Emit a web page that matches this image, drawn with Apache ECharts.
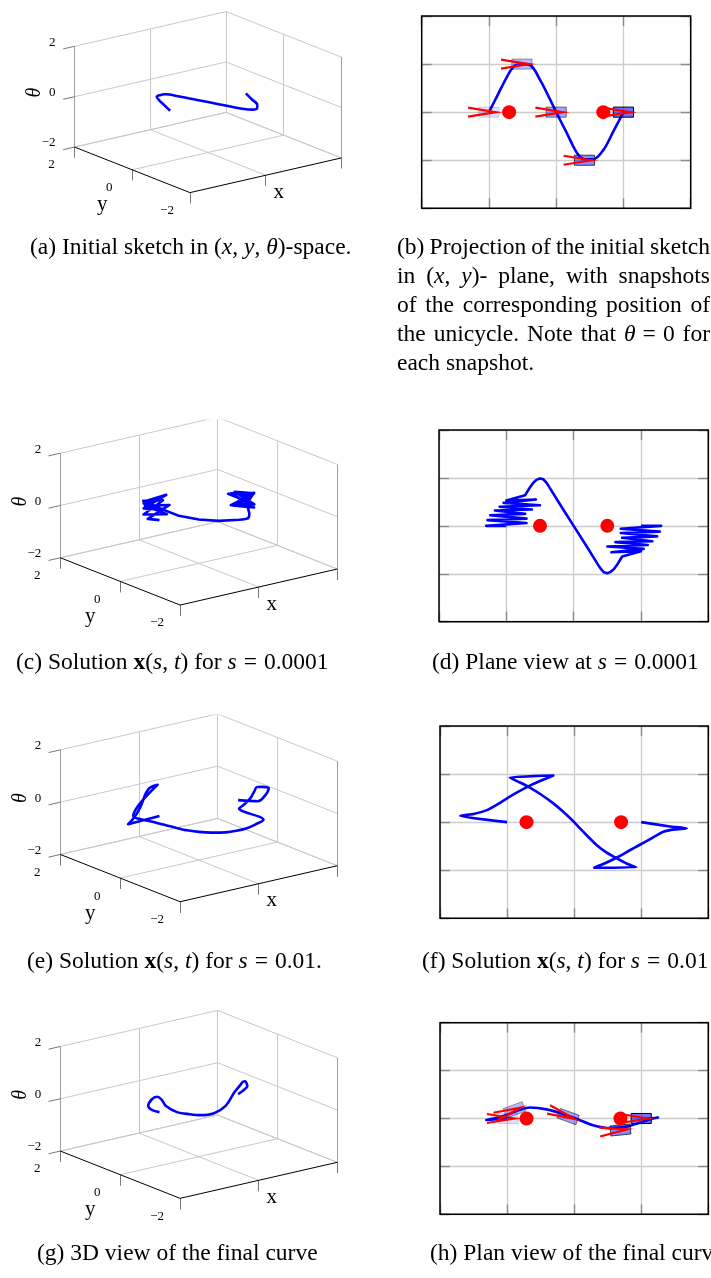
<!DOCTYPE html>
<html>
<head>
<meta charset="utf-8">
<title>Unicycle path deformation</title>
<script src="https://cdn.jsdelivr.net/npm/echarts/dist/echarts.min.js"></script>
<style>
html,body{margin:0;padding:0;background:#fff;}
#chart{width:711px;height:1278px;}
</style>
</head>
<body>
<div id="chart"></div>
<script>
// ---------------- data ----------------
const planeRange = [-2, 2];            // x and y extent of the plan views
const planeStep = 1;                   // grid spacing of the plan views
const cubeTicks = [-2, 0, 2];          // tick values on the cube axes
const cubeTickLabels = ['\u22122', '0', '2'];

// initial sketch (theta = 0 everywhere)
const sketchX = [-1.0, -0.88, -0.73, -0.63, -0.51, -0.39, -0.24, -0.09, 0.0, 0.16, 0.31, 0.42, 0.55, 0.70, 0.85, 1.0];
const sketchY = [0.0, 0.33, 0.74, 0.95, 1.0, 0.98, 0.67, 0.26, 0.0, -0.44, -0.85, -0.98, -0.98, -0.79, -0.40, 0.0];
const sketchTheta = [0, 0, 0, 0, 0, 0, 0, 0, 0, 0, 0, 0, 0, 0, 0, 0];

// solution at s = 0.0001
const earlyX = [-1.0, -1.3, -0.7, -1.28, -0.70, -1.24, -0.72, -1.17, -0.62, -1.1, -0.5, -1.04, -0.56, -1.0, -0.72,
  -0.66, -0.6, -0.55, -0.5, -0.45, -0.41, -0.38, -0.19, 0.0, 0.19, 0.38, 0.41, 0.45, 0.5, 0.55, 0.6, 0.66,
  0.72, 1.0, 0.56, 1.04, 0.5, 1.1, 0.62, 1.17, 0.72, 1.24, 0.70, 1.28, 0.7, 1.3, 1.0];
const earlyY = [0.0, 0.0, 0.06, 0.12, 0.15, 0.22, 0.25, 0.32, 0.34, 0.4, 0.43, 0.48, 0.55, 0.53, 0.64,
  0.78, 0.9, 0.96, 0.99, 0.97, 0.91, 0.85, 0.42, 0.0, -0.42, -0.85, -0.91, -0.97, -0.99, -0.96, -0.9, -0.78,
  -0.64, -0.53, -0.55, -0.48, -0.43, -0.4, -0.34, -0.32, -0.25, -0.22, -0.15, -0.12, -0.06, 0.0, 0.0];
const earlyTheta = [0.0, 0.15, 0.45, 0.6, 0.05, 0.2, 0.55, 0.65, 0.1, 0.3, 0.6, 0.5, 0.05, 0.4, 0.3,
  0.05, 0.02, 0.0, 0.0, -0.05, -0.1, -0.13, -0.3, -0.32, -0.25, -0.08, -0.05, -0.02, 0.0, 0.05, 0.12, 0.22,
  0.3, 0.6, 0.25, 0.0, 0.7, 0.5, 0.15, 0.0, 0.6, 0.35, 0.05, -0.1, 0.45, 0.2, 0.1];

// solution at s = 0.01
const midX = [-1.0, -1.7, -1.5, -1.3, -1.13, -0.96, -0.81, -0.66, -0.5, -0.31, -0.96, -0.8, -0.66, -0.5, -0.31, -0.15,
  0.0, 0.15, 0.33, 0.48, 0.63, 0.78, 0.93, 0.30, 0.5, 0.66, 0.81, 0.98, 1.15, 1.33, 1.5, 1.68, 1.43, 1.0];
const midY = [0.0, 0.13, 0.17, 0.25, 0.38, 0.53, 0.65, 0.76, 0.86, 0.97, 0.93, 0.82, 0.72, 0.58, 0.39, 0.2,
  0.0, -0.22, -0.47, -0.63, -0.75, -0.86, -0.94, -0.95, -0.83, -0.72, -0.6, -0.47, -0.34, -0.2, -0.15, -0.13, -0.09, 0.0];
const midTheta = [0.03, -0.1, 0.1, 0.35, 0.5, 0.6, 0.65, 0.66, 0.62, 0.55, -0.4, -0.55, -0.62, -0.72, -0.82, -0.9,
  -0.92, -0.9, -0.84, -0.76, -0.67, -0.52, -0.35, 0.3, 0.3, 0.3, 0.28, 0.3, 0.38, 0.43, 0.35, 0.23, -0.2, -0.05];

// final curve
const finalX = [-1.0, -1.2, -1.31, -1.2, -1.0, -0.81, -0.66, -0.41, -0.16, 0.04, 0.28, 0.53, 0.78, 0.98, 1.1, 1.18, 1.25, 1.1, 1.0];
const finalY = [0.0, -0.02, -0.03, 0.0, 0.08, 0.18, 0.23, 0.19, 0.09, -0.01, -0.14, -0.2, -0.17, -0.09, -0.03, 0.0, 0.02, 0.0, 0.0];
const finalTheta = [0.05, 0.2, 0.4, 0.6, 0.6, 0.38, 0.06, -0.24, -0.36, -0.42, -0.37, -0.15, 0.28, 0.43, 0.5, 0.48, 0.26, 0.12, 0.05];

// red obstacle discs, [x, y]
const obstaclesSketch = [[-0.70, 0], [0.70, 0]];
const obstaclesEarly = [[-0.50, 0], [0.50, 0]];
const obstaclesMid = [[-0.71, 0], [0.70, 0]];
const obstaclesFinal = [[-0.71, 0], [0.69, 0]];

// unicycle snapshots, [x, y, theta]
const sketchPoses = [[-1.0, 0, 0], [-0.51, 1.0, 0], [0.0, 0, 0], [0.42, -1.0, 0], [1.0, 0, 0]];
const finalPoses = [[-0.99, 0.0, 0.0], [-0.89, 0.18, 0.35], [-0.09, 0.04, -0.35], [0.69, -0.24, 0.1], [1.0, 0, 0]];
const poseFill = [0.12, 0.28, 0.36, 0.46, 0.56];
const poseEdge = [0.15, 0.35, 0.5, 0.7, 1.0];

// captions (_italic_, *bold*, ~ = math space)
const capA = '(a) Initial sketch in (_x_, _y_, _θ_)-space.';
const capB = ['(b) Projection of the initial sketch', 'in (_x_, _y_)- plane, with snapshots',
  'of the corresponding position of', 'the unicycle. Note that _θ_~=~0 for', 'each snapshot.'];
const capC = '(c) Solution *x*(_s_, _t_) for _s_~=~0.0001';
const capD = '(d) Plane view at _s_~=~0.0001';
const capE = '(e) Solution *x*(_s_, _t_) for _s_~=~0.01.';
const capF = '(f) Solution *x*(_s_, _t_) for _s_~=~0.01';
const capG = '(g) 3D view of the final curve';
const capH = '(h) Plan view of the final curve';

// ---------------- drawing ----------------
const BLUE = '#0000ff', RED = '#ff0000';
const SERIF = 'Liberation Serif';
const VIEW = { az: 37.3 * Math.PI / 180, el: 17.5 * Math.PI / 180, zScale: 0.555 };

function project(x, y, z) {
  const ca = Math.cos(VIEW.az), sa = Math.sin(VIEW.az);
  return [x * ca - y * sa, (x * sa + y * ca) * Math.sin(VIEW.el) + z * Math.cos(VIEW.el) * VIEW.zScale];
}

const grids = [], xAxes = [], yAxes = [], series = [];

function textSeries(ai, items) {
  return {
    type: 'custom', xAxisIndex: ai, yAxisIndex: ai, silent: true, z: 20, clip: false,
    data: items.map(it => it.p),
    renderItem(params, api) {
      const it = items[params.dataIndex];
      const c = api.coord([api.value(0), api.value(1)]);
      return {
        type: 'text', x: c[0] + it.dx, y: c[1] + it.dy, rotation: it.rot || 0,
        style: { text: it.text, font: it.font, fill: '#000', align: it.align || 'center', verticalAlign: 'middle' }
      };
    }
  };
}

function addCube(cfg, xs, ys, ts) {
  const gi = grids.length;
  const [l, t, w, h] = cfg.rect, [cx, cy] = cfg.center, s = cfg.scale;
  grids.push({ left: l, top: t, width: w, height: h, containLabel: false, outerBoundsMode: 'none' });
  const ai = xAxes.length;
  xAxes.push({ gridIndex: gi, type: 'value', min: (l - cx) / s, max: (l + w - cx) / s, show: false });
  yAxes.push({ gridIndex: gi, type: 'value', min: (cy - t - h) / s, max: (cy - t) / s, show: false });

  const seg = (a, b) => ({ coords: [project(a[0], a[1], a[2]), project(b[0], b[1], b[2])] });
  const lo = cubeTicks[0], hi = cubeTicks[cubeTicks.length - 1];
  const wall = [], axes = [], ticks = [], edges = [];
  cubeTicks.forEach(v => {
    if (v !== lo) wall.push(seg([v, hi, lo], [v, hi, hi]));
    wall.push(seg([lo, hi, v], [hi, hi, v]));
    if (v !== lo) wall.push(seg([hi, v, lo], [hi, v, hi]));
    wall.push(seg([hi, lo, v], [hi, hi, v]));
    if (v !== lo) wall.push(seg([v, lo, lo], [v, hi, lo]));
    if (v !== lo) wall.push(seg([lo, v, lo], [hi, v, lo]));
    ticks.push(seg([lo, hi, v], [lo - 0.3, hi, v]));
    ticks.push(seg([v, lo, lo], [v, lo, lo - 0.42]));
    ticks.push(seg([lo, v, lo], [lo, v, lo - 0.42]));
  });
  edges.push(seg([lo, hi, lo], [lo, hi, hi]));
  edges.push(seg([hi, lo, lo], [hi, lo, hi]));
  axes.push(seg([lo, lo, lo], [hi, lo, lo]));
  axes.push(seg([lo, lo, lo], [lo, hi, lo]));

  const linesOf = (data, color, width, z) => ({
    type: 'lines', coordinateSystem: 'cartesian2d', xAxisIndex: ai, yAxisIndex: ai, silent: true, z,
    data, lineStyle: { color, width, opacity: 1, curveness: 0 }
  });
  series.push(linesOf(wall, '#c9c9c9', 1, 1));
  series.push(linesOf(edges, '#a0a0a0', 1, 2));
  series.push(linesOf(ticks, '#777777', 1, 2));
  series.push(linesOf(axes, '#000000', 1, 3));
  series.push({
    type: 'line', xAxisIndex: ai, yAxisIndex: ai, silent: true, z: 5, symbol: 'none', smooth: cfg.smooth || false,
    clip: false, lineStyle: { color: BLUE, width: 2.6, join: 'round' },
    data: xs.map((x, i) => project(x, ys[i], ts[i]))
  });

  const tickFont = '13px ' + SERIF;
  const items = [];
  cubeTicks.forEach((v, i) => {
    items.push({ p: project(lo, hi, v), text: cubeTickLabels[i], dx: -19, dy: -4, align: 'right', font: tickFont });
    items.push({ p: project(lo, v, lo), text: cubeTickLabels[i], dx: -23, dy: 18, font: tickFont });
  });
  items.push({ p: project(0, lo, lo), text: 'x', dx: 13, dy: 17, font: '21px ' + SERIF });
  items.push({ p: project(lo, 0, lo), text: 'y', dx: -30, dy: 35, font: '21px ' + SERIF });
  items.push({ p: project(lo, hi, 0), text: 'θ', dx: -40, dy: -4, rot: Math.PI / 2, font: 'italic 20px ' + SERIF });
  series.push(textSeries(ai, items));
}

function addPlane(cfg, xs, ys, dots, poses) {
  const gi = grids.length;
  const [l, t, w, h] = cfg.rect;
  grids.push({ left: l, top: t, width: w, height: h, containLabel: false, outerBoundsMode: 'none' });
  const base = {
    gridIndex: gi, type: 'value', min: planeRange[0], max: planeRange[1], interval: planeStep,
    axisLabel: { show: false },
    axisLine: { show: false, onZero: false },
    axisTick: { show: true, inside: true, length: 10, lineStyle: { color: '#8a8a8a', width: 1.4 } }
  };
  const split = { show: true, lineStyle: { color: '#cccccc', width: 1.3 } };
  const xi = xAxes.length, yi = yAxes.length;
  xAxes.push(Object.assign({}, base, { position: 'bottom', splitLine: split }));
  xAxes.push(Object.assign({}, base, { position: 'top', splitLine: { show: false } }));
  yAxes.push(Object.assign({}, base, { position: 'left', splitLine: split }));
  yAxes.push(Object.assign({}, base, { position: 'right', splitLine: { show: false } }));

  series.push({
    type: 'line', xAxisIndex: xi, yAxisIndex: yi, silent: true, z: 5, symbol: 'none', smooth: cfg.smooth || false,
    lineStyle: { color: BLUE, width: 2.6, join: 'round' },
    data: xs.map((x, i) => [x, ys[i]])
  });
  if (poses) {
    series.push({
      type: 'custom', xAxisIndex: xi, yAxisIndex: yi, silent: true, z: 6, clip: false,
      data: poses.map((p, i) => [p[0], p[1], p[2], poseFill[i], poseEdge[i]]),
      renderItem(params, api) {
        const c = api.coord([api.value(0), api.value(1)]);
        const th = api.value(2);
        const u = api.size([1, 0])[0];
        const L = 0.3 * u, B = 0.15 * u;
        const co = Math.cos(th), si = Math.sin(th);
        const pt = (a, b) => [c[0] + a * co - b * si, c[1] - (a * si + b * co)];
        return {
          type: 'group', children: [
            { type: 'polygon', shape: { points: [pt(-L / 2, -B / 2), pt(L / 2, -B / 2), pt(L / 2, B / 2), pt(-L / 2, B / 2)] },
              style: { fill: 'rgba(0,0,255,' + api.value(3) + ')', stroke: 'rgba(0,0,0,' + api.value(4) + ')', lineWidth: 1 } },
            { type: 'polyline', shape: { points: [pt(-0.31 * u, -0.067 * u), pt(0.1 * u, 0), pt(-0.31 * u, 0.067 * u)] },
              style: { stroke: RED, lineWidth: 2.2, fill: null } }
          ]
        };
      }
    });
  }
  series.push({
    type: 'scatter', xAxisIndex: xi, yAxisIndex: yi, silent: true, z: 8, symbolSize: 14,
    itemStyle: { color: RED, opacity: 1 }, data: dots
  });
  // frame of the plan view, drawn on top of the tick marks
  series.push({
    type: 'custom', xAxisIndex: xi, yAxisIndex: yi, silent: true, z: 9, clip: false,
    data: [[planeRange[0], planeRange[0], planeRange[1], planeRange[1]]],
    renderItem(params, api) {
      const a = api.coord([api.value(0), api.value(1)]), b = api.coord([api.value(2), api.value(3)]);
      return { type: 'rect', shape: { x: a[0], y: b[1], width: b[0] - a[0], height: a[1] - b[1] },
        style: { fill: null, stroke: '#000', lineWidth: 1.5 } };
    }
  });
}

addCube({ rect: [0, 0, 360, 230], center: [208, 102.1], scale: 47.6, smooth: 0.35 }, sketchX, sketchY, sketchTheta);
addPlane({ rect: [421.7, 16, 269, 192.3], smooth: 0.35 }, sketchX, sketchY, obstaclesSketch, sketchPoses);
addCube({ rect: [0, 420, 360, 220], center: [198.8, 511.1], scale: 49.4 }, earlyX, earlyY, earlyTheta);
addPlane({ rect: [439, 430, 269.3, 191.7] }, earlyX, earlyY, obstaclesEarly, null);
addCube({ rect: [0, 715, 360, 220], center: [198.8, 807.8], scale: 49.4, smooth: 0.3 }, midX, midY, midTheta);
addPlane({ rect: [440, 726, 268.3, 192.3], smooth: 0.15 }, midX, midY, obstaclesMid, null);
addCube({ rect: [0, 1010, 360, 220], center: [198.8, 1104.4], scale: 49.4, smooth: 0.3 }, finalX, finalY, finalTheta);
addPlane({ rect: [440, 1022.7, 268.3, 191.6], smooth: 0.3 }, finalX, finalY, obstaclesFinal, finalPoses);

// ---------------- captions ----------------
const CAP = 23.5;
const rich = {
  r: { fontFamily: SERIF, fontSize: CAP, fill: '#000' },
  i: { fontFamily: SERIF, fontSize: CAP, fontStyle: 'italic', fill: '#000' },
  b: { fontFamily: SERIF, fontSize: CAP, fontWeight: 'bold', fill: '#000' },
  g: { fontFamily: SERIF, fontSize: CAP, width: CAP * 0.3 }
};
const mctx = document.createElement('canvas').getContext('2d');
function parseMarkup(str) {
  const out = [], re = /(_[^_]+_|\*[^*]+\*|~)/g;
  let last = 0, m;
  while ((m = re.exec(str))) {
    if (m.index > last) out.push({ t: str.slice(last, m.index), k: 'r' });
    if (m[0] === '~') out.push({ t: ' ', k: 'g' });
    else out.push({ t: m[0].slice(1, -1), k: m[0][0] === '_' ? 'i' : 'b' });
    last = re.lastIndex;
  }
  if (last < str.length) out.push({ t: str.slice(last), k: 'r' });
  return out;
}
function fontOf(k) { return (k === 'i' ? 'italic ' : '') + (k === 'b' ? 'bold ' : '') + CAP + 'px "' + SERIF + '"'; }
function widthOf(segs) {
  return segs.reduce((w, s) => {
    if (s.k === 'g') return w + CAP * 0.3;
    mctx.font = fontOf(s.k); return w + mctx.measureText(s.t).width;
  }, 0);
}
function richText(segs) { return segs.map(s => '{' + s.k + '|' + s.t + '}').join(''); }
function textEl(str, x, y) {
  return { type: 'text', x, y, silent: true, style: { text: richText(parseMarkup(str)), rich, align: 'left', verticalAlign: 'middle' } };
}
function justified(lines, x0, x1, y0, lh) {
  const els = [];
  lines.forEach((line, li) => {
    const y = y0 + li * lh;
    if (li === lines.length - 1) { els.push(textEl(line, x0, y)); return; }
    const words = line.split(' ').map(wd => parseMarkup(wd));
    const ws = words.map(widthOf);
    const gap = (x1 - x0 - ws.reduce((a, b) => a + b, 0)) / (words.length - 1);
    let x = x0;
    words.forEach((wd, i) => {
      els.push({ type: 'text', x, y, silent: true, style: { text: richText(wd), rich, align: 'left', verticalAlign: 'middle' } });
      x += ws[i] + gap;
    });
  });
  return els;
}

const graphics = [
  textEl(capA, 30, 248),
  ...justified(capB, 397, 710, 248, 29),
  textEl(capC, 16, 663), textEl(capD, 432, 663),
  textEl(capE, 27, 962), textEl(capF, 422, 962),
  textEl(capG, 37, 1254), textEl(capH, 430, 1254)
];

const chart = echarts.init(document.getElementById('chart'), null, { renderer: 'canvas', width: 711, height: 1278 });
chart.setOption({
  animation: false,
  backgroundColor: '#ffffff',
  grid: grids, xAxis: xAxes, yAxis: yAxes, series,
  graphic: { elements: graphics }
});
</script>
</body>
</html>
